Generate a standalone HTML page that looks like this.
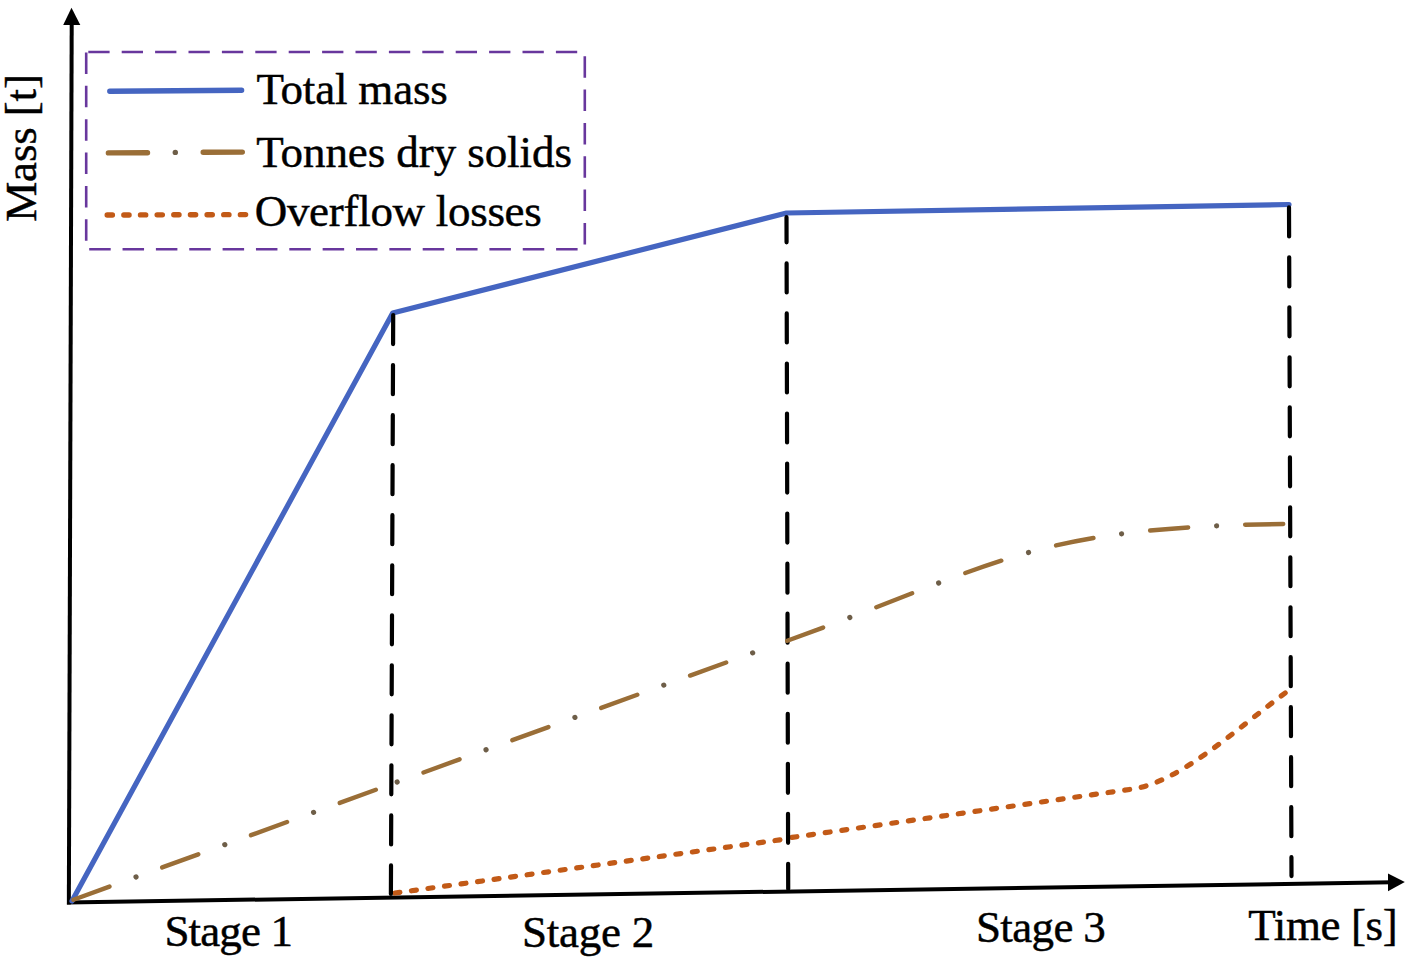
<!DOCTYPE html>
<html>
<head>
<meta charset="utf-8">
<style>
html,body{margin:0;padding:0;background:#fff;}
body{width:1416px;height:971px;overflow:hidden;}
svg{display:block;}
text{font-family:"Liberation Serif",serif;fill:#000;stroke:#000;stroke-width:0.45px;}
</style>
</head>
<body>
<svg width="1416" height="971" viewBox="0 0 1416 971" xmlns="http://www.w3.org/2000/svg">
<rect width="1416" height="971" fill="#fff"/>

<!-- legend box -->
<g stroke="#68379d" stroke-width="2.6" fill="none" stroke-dasharray="21.5 11.85">
  <line x1="88.3" y1="52.0" x2="585" y2="52.0" stroke-dasharray="21.3 12.1"/>
  <line x1="86.2" y1="52.5" x2="86.2" y2="249.5"/>
  <line x1="584.8" y1="56.2" x2="584.8" y2="249.5"/>
  <line x1="89.2" y1="249.3" x2="586" y2="249.3"/>
</g>

<!-- legend symbols -->
<line x1="109.8" y1="91.3" x2="241.6" y2="90.3" stroke="#4565c1" stroke-width="5.4" stroke-linecap="round"/>
<g stroke="#9a6e37" stroke-width="5.4" stroke-linecap="round">
  <line x1="108.4" y1="152.9" x2="147.5" y2="152.8"/>
  <line x1="203.2" y1="152.2" x2="242.3" y2="152.1"/>
</g>
<circle cx="175.3" cy="152.4" r="2.7" fill="#6e5e48"/>
<line x1="107.2" y1="215" x2="248" y2="214.6" stroke="#c25a17" stroke-width="5.4" stroke-linecap="round" stroke-dasharray="5.2 11.45"/>

<!-- axes -->
<g stroke="#000" stroke-width="4" fill="none">
  <line x1="68.85" y1="904.5" x2="71.7" y2="22"/>
  <line x1="67" y1="902.5" x2="1392" y2="882.3"/>
</g>
<polygon points="71.5,7.8 63.2,25 80.3,25" fill="#000"/>
<polygon points="1404.8,882.1 1388,873.6 1388,891.2" fill="#000"/>

<!-- blue total mass -->
<polyline points="72,901 392.7,313 786.5,213 1289,204.5" fill="none" stroke="#4565c1" stroke-width="5.2" stroke-linejoin="round" stroke-linecap="round"/>

<!-- orange overflow -->
<g fill="none" stroke="#c25a17" stroke-width="5.2" stroke-linecap="round">
  <path d="M392,893.45 L787,838.89" stroke-dasharray="5 11.682" stroke-dashoffset="13.744"/>
  <path d="M787,838.12 L1132.3,789.08 C1180.4,782.14 1237.18,728.27 1286.5,692" stroke-dasharray="5 11.806" stroke-dashoffset="11.846"/>
</g>

<!-- vertical dashed stage lines -->
<g stroke="#000" stroke-width="4.2" fill="none" stroke-linecap="round">
  <line x1="393.2" y1="315.1" x2="390.9" y2="894" stroke-dasharray="29 21.03"/>
  <line x1="786.5" y1="217.2" x2="788.2" y2="889" stroke-dasharray="29 21.04" stroke-dashoffset="3.84"/>
  <line x1="1289" y1="207.4" x2="1291.5" y2="876.1" stroke-dasharray="29 20.98"/>
</g>

<!-- brown tonnes dry solids -->
<g fill="none" stroke-linecap="round">
  <path d="M73.41,899.70 L380.15,788.22" stroke="#9a6e37" stroke-width="4.4" stroke-dasharray="38.4 56.062"/>
  <path d="M73.41,899.70 L380.15,788.22" stroke="#6e5e48" stroke-width="5.2" stroke-dasharray="0.01 94.452" stroke-dashoffset="27.862"/>
  <path d="M392.37,783.78 L765.49,648.17" stroke="#9a6e37" stroke-width="4.4" stroke-dasharray="38.4 56.153" stroke-dashoffset="61.451"/>
  <path d="M392.37,783.78 L765.49,648.17" stroke="#6e5e48" stroke-width="5.2" stroke-dasharray="0.01 94.543" stroke-dashoffset="89.444"/>
  <path d="M786.6,641 C1003.38,562.76 1030.31,527.06 1289,523.9" stroke="#9a6e37" stroke-width="4.4" stroke-dasharray="38.2 57" stroke-dashoffset="94.55"/>
  <path d="M786.6,641 C1003.38,562.76 1030.31,527.06 1289,523.9" stroke="#6e5e48" stroke-width="5.2" stroke-dasharray="0.01 95.19" stroke-dashoffset="27.85"/>
</g>

<!-- texts -->
<text x="256.4" y="104" font-size="45" textLength="191.4" lengthAdjust="spacing">Total mass</text>
<text x="256.3" y="166.6" font-size="45" textLength="315.6" lengthAdjust="spacing">Tonnes dry solids</text>
<text x="254.7" y="226.4" font-size="45" textLength="287.1" lengthAdjust="spacing">Overflow losses</text>
<text x="164.4" y="946" font-size="45" textLength="128.6" lengthAdjust="spacing">Stage 1</text>
<text x="521.9" y="946.5" font-size="45" textLength="132.4" lengthAdjust="spacing">Stage 2</text>
<text x="976" y="941.5" font-size="45" textLength="129.8" lengthAdjust="spacing">Stage 3</text>
<text x="1248.3" y="940.2" font-size="45" textLength="149.4" lengthAdjust="spacing">Time [s]</text>
<text transform="translate(36.4,221.8) rotate(-90)" font-size="45" textLength="147.8" lengthAdjust="spacing">Mass [t]</text>
</svg>
</body>
</html>
